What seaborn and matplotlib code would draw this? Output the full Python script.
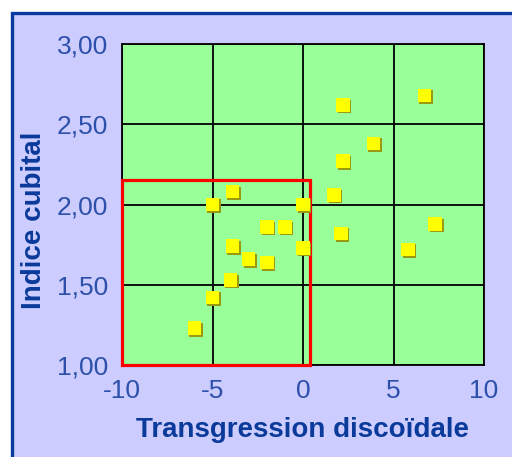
import matplotlib
matplotlib.use("Agg")
import matplotlib.pyplot as plt
import matplotlib.patches as patches
import matplotlib.patheffects as pe
from matplotlib.ticker import FuncFormatter
import seaborn as sns
import pandas as pd

# values
transgression = [-6.0, -5.0, -4.0, -5.0, -3.9, -3.9, -3.0, -2.0, -2.0, -1.0,
                 0.0, 0.0, 1.7, 2.2, 2.2, 3.9, 2.1, 6.7, 7.3, 5.8]
indice = [1.23, 1.42, 1.53, 2.00, 2.08, 1.74, 1.66, 1.64, 1.86, 1.86,
          2.00, 1.73, 2.06, 2.62, 2.27, 2.38, 1.82, 2.68, 1.88, 1.72]
box_x = [-10, 0.4]
box_y = [1.0, 2.15]

df = pd.DataFrame({"x": transgression, "y": indice})

sns.set_style("white")
plt.rcParams['font.family'] = ['Liberation Sans', 'DejaVu Sans']
plt.rcParams['axes.unicode_minus'] = False

fig = plt.figure(figsize=(5.12, 4.57), dpi=100)
fig.set_facecolor('white')
# lavender panel with blue border (runs off right and bottom edges)
frame = patches.Rectangle((11.5 / 512, -0.05), 1.2, (457 - 12.5) / 457 + 0.05,
                          transform=fig.transFigure, facecolor='#ccccff',
                          edgecolor='#0a3aa0', linewidth=2.4, zorder=-1)
fig.patches.append(frame)

ax = fig.add_axes([122 / 512, 1 - 365 / 457, 362 / 512, 321 / 457])
ax.set_facecolor('#99ff99')

ax.add_patch(patches.Rectangle((box_x[0], box_y[0]), box_x[1] - box_x[0], box_y[1] - box_y[0],
                               fill=False, edgecolor='#ff0000', linewidth=2.3, zorder=3,
                               clip_on=False))

sns.scatterplot(data=df, x="x", y="y", ax=ax, marker='s', s=95, color='#ffff00',
                linewidth=0, zorder=4,
                path_effects=[pe.SimplePatchShadow(offset=(1.2, -1.2), shadow_rgbFace='#9a9a10', alpha=1.0),
                              pe.Normal()])

ax.set_xlim(-10, 10)
ax.set_ylim(1.0, 3.0)
ax.set_xticks([-10, -5, 0, 5, 10])
ax.set_yticks([1.0, 1.5, 2.0, 2.5, 3.0])
ax.yaxis.set_major_formatter(FuncFormatter(lambda v, p: f"{v:.2f}".replace('.', ',')))
ax.grid(True, color='black', linewidth=1.3)
ax.set_axisbelow(True)
for s in ax.spines.values():
    s.set_color('black')
    s.set_linewidth(1.3)
ax.tick_params(axis='both', direction='out', length=5, width=1.2, color='black',
               labelcolor='#2d50aa', labelsize=19, pad=5)

ax.set_xlabel("Transgression discoïdale", fontsize=20, fontweight='bold', color='#0a3a9a', labelpad=10)
ax.set_ylabel("Indice cubital", fontsize=20, fontweight='bold', color='#0a3a9a', labelpad=7)
ax.yaxis.label.set_y(0.45)

fig.savefig("out.png", dpi=100)
